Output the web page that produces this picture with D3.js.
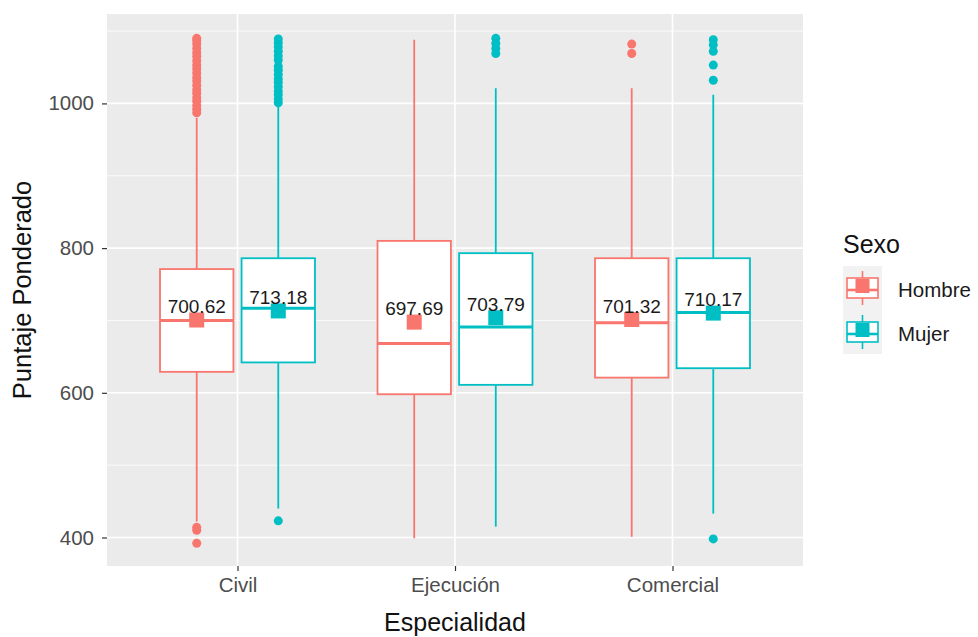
<!DOCTYPE html>
<html>
<head>
<meta charset="utf-8">
<script src="https://cdn.jsdelivr.net/npm/d3@7"></script>
<style>
  html, body { margin: 0; padding: 0; background: #ffffff; }
  svg { display: block; font-family: "Liberation Sans", Arial, sans-serif; }
</style>
</head>
<body>
<svg id="chart" width="978" height="637"></svg>
<script>
// ---------------- DATA ----------------
const categories = ["Civil", "Ejecución", "Comercial"];
const groups = ["Hombre", "Mujer"];
const groupColors = ["#F8766D", "#00BFC4"];

const hombreLow    = [422, 399, 401];
const hombreQ1     = [629, 598, 621];
const hombreMedian = [700, 668, 697];
const hombreQ3     = [771, 810, 786];
const hombreHigh   = [980, 1088, 1021];
const hombreMean   = [700.62, 697.69, 701.32];
const hombreOutliers = [
  [392, 410, 414, 987, 992, 997, 1003, 1008, 1014, 1019, 1025, 1031, 1036, 1042, 1048, 1053, 1059, 1065, 1070, 1076, 1082, 1087, 1090],
  [],
  [1069, 1082]
];

const mujerLow    = [440, 415, 433];
const mujerQ1     = [642, 611, 634];
const mujerMedian = [717, 691, 711];
const mujerQ3     = [786, 793, 786];
const mujerHigh   = [996, 1021, 1012];
const mujerMean   = [713.18, 703.79, 710.17];
const mujerOutliers = [
  [423, 1001, 1006, 1012, 1017, 1023, 1029, 1034, 1040, 1046, 1051, 1060, 1066, 1072, 1078, 1084, 1089],
  [1069, 1076, 1083, 1090],
  [398, 1032, 1053, 1072, 1081, 1088]
];

const yTicks = [400, 600, 800, 1000];
const yMinorTicks = [500, 700, 900, 1100];
const xTitle = "Especialidad";
const yTitle = "Puntaje Ponderado";
const legendTitle = "Sexo";

// ---------------- BUILD ----------------
const stats = [
  { low: hombreLow, q1: hombreQ1, med: hombreMedian, q3: hombreQ3, high: hombreHigh, mean: hombreMean, out: hombreOutliers },
  { low: mujerLow, q1: mujerQ1, med: mujerMedian, q3: mujerQ3, high: mujerHigh, mean: mujerMean, out: mujerOutliers }
];
const boxes = [];
categories.forEach((c, i) => {
  groups.forEach((g, j) => {
    const s = stats[j];
    boxes.push({ cat: c, group: g, gi: j, low: s.low[i], q1: s.q1[i], med: s.med[i], q3: s.q3[i],
                 high: s.high[i], mean: s.mean[i], out: s.out[i] });
  });
});

const panel = { left: 107, right: 803, top: 14, bottom: 566 };
const svg = d3.select("#chart");

const x = d3.scalePoint().domain(categories).range([panel.left, panel.right]).padding(0.6);
const step = x.step();
const xg = d3.scaleBand().domain(groups).range([-step * 0.375, step * 0.375]);
const boxW = xg.bandwidth() * 0.9;
const cx = d => x(d.cat) + xg(d.group) + xg.bandwidth() / 2;

const y = d3.scaleLinear().domain([360.6, 1123.6]).range([panel.bottom, panel.top]);
const color = d3.scaleOrdinal().domain(groups).range(groupColors);

// panel background
svg.append("rect")
  .attr("x", panel.left).attr("y", panel.top)
  .attr("width", panel.right - panel.left).attr("height", panel.bottom - panel.top)
  .attr("fill", "#EBEBEB");

// grid
const grid = svg.append("g");
grid.selectAll("line.minor").data(yMinorTicks).join("line")
  .attr("x1", panel.left).attr("x2", panel.right)
  .attr("y1", d => y(d)).attr("y2", d => y(d))
  .attr("stroke", "#ffffff").attr("stroke-width", 0.8);
grid.selectAll("line.major").data(yTicks).join("line")
  .attr("x1", panel.left).attr("x2", panel.right)
  .attr("y1", d => y(d)).attr("y2", d => y(d))
  .attr("stroke", "#ffffff").attr("stroke-width", 1.6);
grid.selectAll("line.vmajor").data(categories).join("line")
  .attr("x1", d => x(d)).attr("x2", d => x(d))
  .attr("y1", panel.top).attr("y2", panel.bottom)
  .attr("stroke", "#ffffff").attr("stroke-width", 1.6);

// boxplots
const bg = svg.append("g");
boxes.forEach(d => {
  const g = bg.append("g");
  const col = color(d.group);
  const c = cx(d);
  g.append("line").attr("x1", c).attr("x2", c).attr("y1", y(d.q3)).attr("y2", y(d.high))
    .attr("stroke", col).attr("stroke-width", 1.8);
  g.append("line").attr("x1", c).attr("x2", c).attr("y1", y(d.q1)).attr("y2", y(d.low))
    .attr("stroke", col).attr("stroke-width", 1.8);
  g.append("rect").attr("x", c - boxW / 2).attr("y", y(d.q3))
    .attr("width", boxW).attr("height", y(d.q1) - y(d.q3))
    .attr("fill", "#ffffff").attr("stroke", col).attr("stroke-width", 1.8);
  g.append("line").attr("x1", c - boxW / 2).attr("x2", c + boxW / 2)
    .attr("y1", y(d.med)).attr("y2", y(d.med))
    .attr("stroke", col).attr("stroke-width", 3);
  g.selectAll("circle").data(d.out).join("circle")
    .attr("cx", c).attr("cy", v => y(v)).attr("r", 4.5).attr("fill", col);
});

// mean squares
const sq = 15;
svg.append("g").selectAll("rect").data(boxes).join("rect")
  .attr("x", d => cx(d) - sq / 2).attr("y", d => y(d.mean) - sq / 2)
  .attr("width", sq).attr("height", sq)
  .attr("fill", d => color(d.group));

// mean labels
svg.append("g").selectAll("text").data(boxes).join("text")
  .attr("x", d => cx(d)).attr("y", d => y(d.mean) - 7)
  .attr("text-anchor", "middle")
  .attr("font-size", "19px").attr("fill", "#1a1a1a")
  .text(d => d.mean.toFixed(2));

// y axis
const yAxis = d3.axisLeft(y).tickValues(yTicks).tickSize(5).tickPadding(8).tickFormat(d3.format("d"));
const ya = svg.append("g").attr("transform", `translate(${panel.left},0)`).call(yAxis);
ya.select(".domain").remove();
ya.selectAll(".tick line").attr("stroke", "#333333").attr("stroke-width", 1.2);
ya.selectAll(".tick text").attr("font-size", "20.5px").attr("fill", "#4D4D4D")
  .attr("font-family", "Liberation Sans, Arial, sans-serif");

// x axis
const xAxis = d3.axisBottom(x).tickSize(5).tickPadding(6);
const xa = svg.append("g").attr("transform", `translate(0,${panel.bottom})`).call(xAxis);
xa.select(".domain").remove();
xa.selectAll(".tick line").attr("stroke", "#333333").attr("stroke-width", 1.2);
xa.selectAll(".tick text").attr("font-size", "20.5px").attr("fill", "#4D4D4D")
  .attr("font-family", "Liberation Sans, Arial, sans-serif");

// axis titles
svg.append("text").attr("x", (panel.left + panel.right) / 2).attr("y", 631)
  .attr("text-anchor", "middle").attr("font-size", "25px").attr("fill", "#111")
  .text(xTitle);
svg.append("text").attr("transform", `translate(31,${(panel.top + panel.bottom) / 2}) rotate(-90)`)
  .attr("text-anchor", "middle").attr("font-size", "25.5px").attr("fill", "#111")
  .text(yTitle);

// legend
const lg = svg.append("g").attr("transform", "translate(843,0)");
lg.append("text").attr("x", 0).attr("y", 253).attr("font-size", "25px").attr("fill", "#111").text(legendTitle);
const keyW = 39, keyH = 44, keyTop = 266;
groups.forEach((g, j) => {
  const ky = keyTop + j * keyH;
  const col = color(g);
  const k = lg.append("g");
  k.append("rect").attr("x", 0).attr("y", ky).attr("width", keyW).attr("height", keyH).attr("fill", "#F2F2F2");
  const mx = keyW / 2, my = ky + keyH / 2;
  k.append("line").attr("x1", mx).attr("x2", mx).attr("y1", ky + 5).attr("y2", ky + keyH - 5)
    .attr("stroke", col).attr("stroke-width", 1.6);
  k.append("rect").attr("x", 4).attr("y", my - 10).attr("width", keyW - 8).attr("height", 20)
    .attr("fill", "#ffffff").attr("stroke", col).attr("stroke-width", 1.6);
  k.append("line").attr("x1", 4).attr("x2", keyW - 4).attr("y1", my + 2).attr("y2", my + 2)
    .attr("stroke", col).attr("stroke-width", 2.6);
  k.append("rect").attr("x", mx - 7).attr("y", my - 9).attr("width", 14).attr("height", 14).attr("fill", col);
  lg.append("text").attr("x", 55).attr("y", my + 9).attr("font-size", "20.5px").attr("fill", "#1a1a1a").text(g);
});
</script>
</body>
</html>
